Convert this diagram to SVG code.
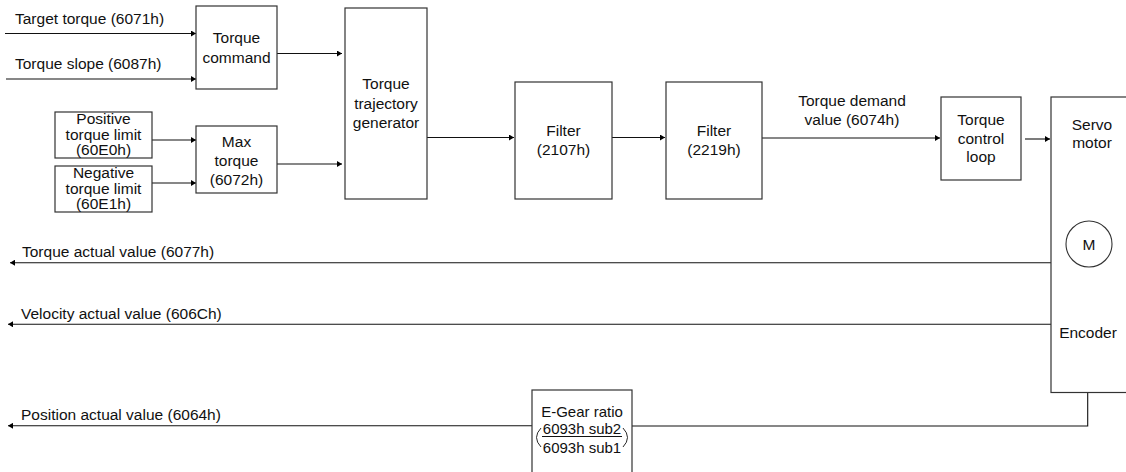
<svg xmlns="http://www.w3.org/2000/svg" width="1126" height="472" viewBox="0 0 1126 472">
<defs>
<marker id="arr" markerWidth="6" markerHeight="6" refX="5" refY="3" orient="auto" markerUnits="userSpaceOnUse">
<path d="M0,0 L5,3 L0,6 z" fill="#000"/>
</marker>
<style>
.box{fill:#fff;stroke:#333;stroke-width:1.2}
.ln{fill:none;stroke:#111;stroke-width:1.1}
.t{font-family:"Liberation Sans",Arial,sans-serif;font-size:15.5px;fill:#111}
.c{text-anchor:middle}
.g{font-size:15px}
</style>
</defs>
<rect width="1126" height="472" fill="#fff"/>

<g id="connectors">
<line class="ln" x1="5" y1="33.5" x2="196" y2="33.5" marker-end="url(#arr)"/>
<line class="ln" x1="6" y1="79" x2="196" y2="79" marker-end="url(#arr)"/>
<line class="ln" x1="152" y1="140" x2="196" y2="140" marker-end="url(#arr)"/>
<line class="ln" x1="152" y1="183" x2="196" y2="183" marker-end="url(#arr)"/>
<line class="ln" x1="277" y1="53.5" x2="342" y2="53.5" marker-end="url(#arr)"/>
<line class="ln" x1="277" y1="164" x2="342" y2="164" marker-end="url(#arr)"/>
<line class="ln" x1="427" y1="137.5" x2="514" y2="137.5" marker-end="url(#arr)"/>
<line class="ln" x1="612" y1="137.5" x2="665" y2="137.5" marker-end="url(#arr)"/>
<line class="ln" x1="762" y1="138" x2="940" y2="138" marker-end="url(#arr)"/>
<line class="ln" x1="1025" y1="139" x2="1050" y2="139" marker-end="url(#arr)"/>
<line class="ln" x1="1051" y1="262.7" x2="10" y2="262.7" marker-end="url(#arr)"/>
<line class="ln" x1="1051" y1="324.3" x2="8" y2="324.3" marker-end="url(#arr)"/>
<polyline class="ln" points="1087.7,392.5 1087.7,426 632,426"/>
<line class="ln" x1="532" y1="425.8" x2="8" y2="425.8" marker-end="url(#arr)"/>
<text class="t" x="15" y="24">Target torque (6071h)</text>
<text class="t" x="15" y="68.5">Torque slope (6087h)</text>
<text class="t c" x="852" y="106">Torque demand</text>
<text class="t c" x="852" y="125">value (6074h)</text>
<text class="t" x="22" y="257">Torque actual value (6077h)</text>
<text class="t" x="21" y="319">Velocity actual value (606Ch)</text>
<text class="t" x="21" y="419.5">Position actual value (6064h)</text>
</g>

<g id="torque-command">
<rect class="box" x="196" y="6" width="81" height="83"/>
<text class="t c" x="236.5" y="43">Torque</text>
<text class="t c" x="236.5" y="62.5">command</text>
</g>

<g id="positive-limit">
<rect class="box" x="55" y="112" width="97" height="46"/>
<text class="t c" x="103.5" y="124">Positive</text>
<text class="t c" x="103.5" y="139.5">torque limit</text>
<text class="t c" x="103.5" y="155">(60E0h)</text>
</g>

<g id="negative-limit">
<rect class="box" x="55" y="166" width="97" height="46"/>
<text class="t c" x="103.5" y="178">Negative</text>
<text class="t c" x="103.5" y="193.5">torque limit</text>
<text class="t c" x="103.5" y="209">(60E1h)</text>
</g>

<g id="max-torque">
<rect class="box" x="196" y="126" width="81" height="67"/>
<text class="t c" x="236.5" y="147">Max</text>
<text class="t c" x="236.5" y="166">torque</text>
<text class="t c" x="236.5" y="185">(6072h)</text>
</g>

<g id="trajectory-generator">
<rect class="box" x="345" y="8" width="82" height="191"/>
<text class="t c" x="386" y="89">Torque</text>
<text class="t c" x="386" y="108.5">trajectory</text>
<text class="t c" x="386" y="128">generator</text>
</g>

<g id="filter-2107">
<rect class="box" x="515" y="82" width="97" height="117"/>
<text class="t c" x="563.5" y="136">Filter</text>
<text class="t c" x="563.5" y="155">(2107h)</text>
</g>

<g id="filter-2219">
<rect class="box" x="666" y="82" width="96" height="117"/>
<text class="t c" x="714" y="136">Filter</text>
<text class="t c" x="714" y="155">(2219h)</text>
</g>

<g id="torque-control-loop">
<rect class="box" x="941" y="97" width="80" height="83"/>
<text class="t c" x="981" y="125">Torque</text>
<text class="t c" x="981" y="143.5">control</text>
<text class="t c" x="981" y="162">loop</text>
</g>

<g id="servo-motor">
<rect class="box" x="1051" y="97" width="80" height="295.5"/>
<text class="t c" x="1092" y="130">Servo</text>
<text class="t c" x="1092" y="148">motor</text>
<circle cx="1089" cy="244" r="23" fill="#fff" stroke="#333" stroke-width="1.1"/>
<text class="t c" x="1089" y="250">M</text>
<text class="t c" x="1088" y="338">Encoder</text>
</g>

<g id="e-gear">
<rect class="box" x="532" y="390" width="100" height="90"/>
<text class="t g c" x="582" y="417">E-Gear ratio</text>
<text class="t g c" x="582" y="434">6093h sub2</text>
<line x1="542" y1="436.5" x2="622" y2="436.5" stroke="#111" stroke-width="1"/>
<text class="t g c" x="582" y="453">6093h sub1</text>
<path d="M541,428 Q532,437.5 541,447" fill="none" stroke="#111" stroke-width="0.9"/>
<path d="M623,428 Q632,437.5 623,447" fill="none" stroke="#111" stroke-width="0.9"/>
</g>
</svg>
